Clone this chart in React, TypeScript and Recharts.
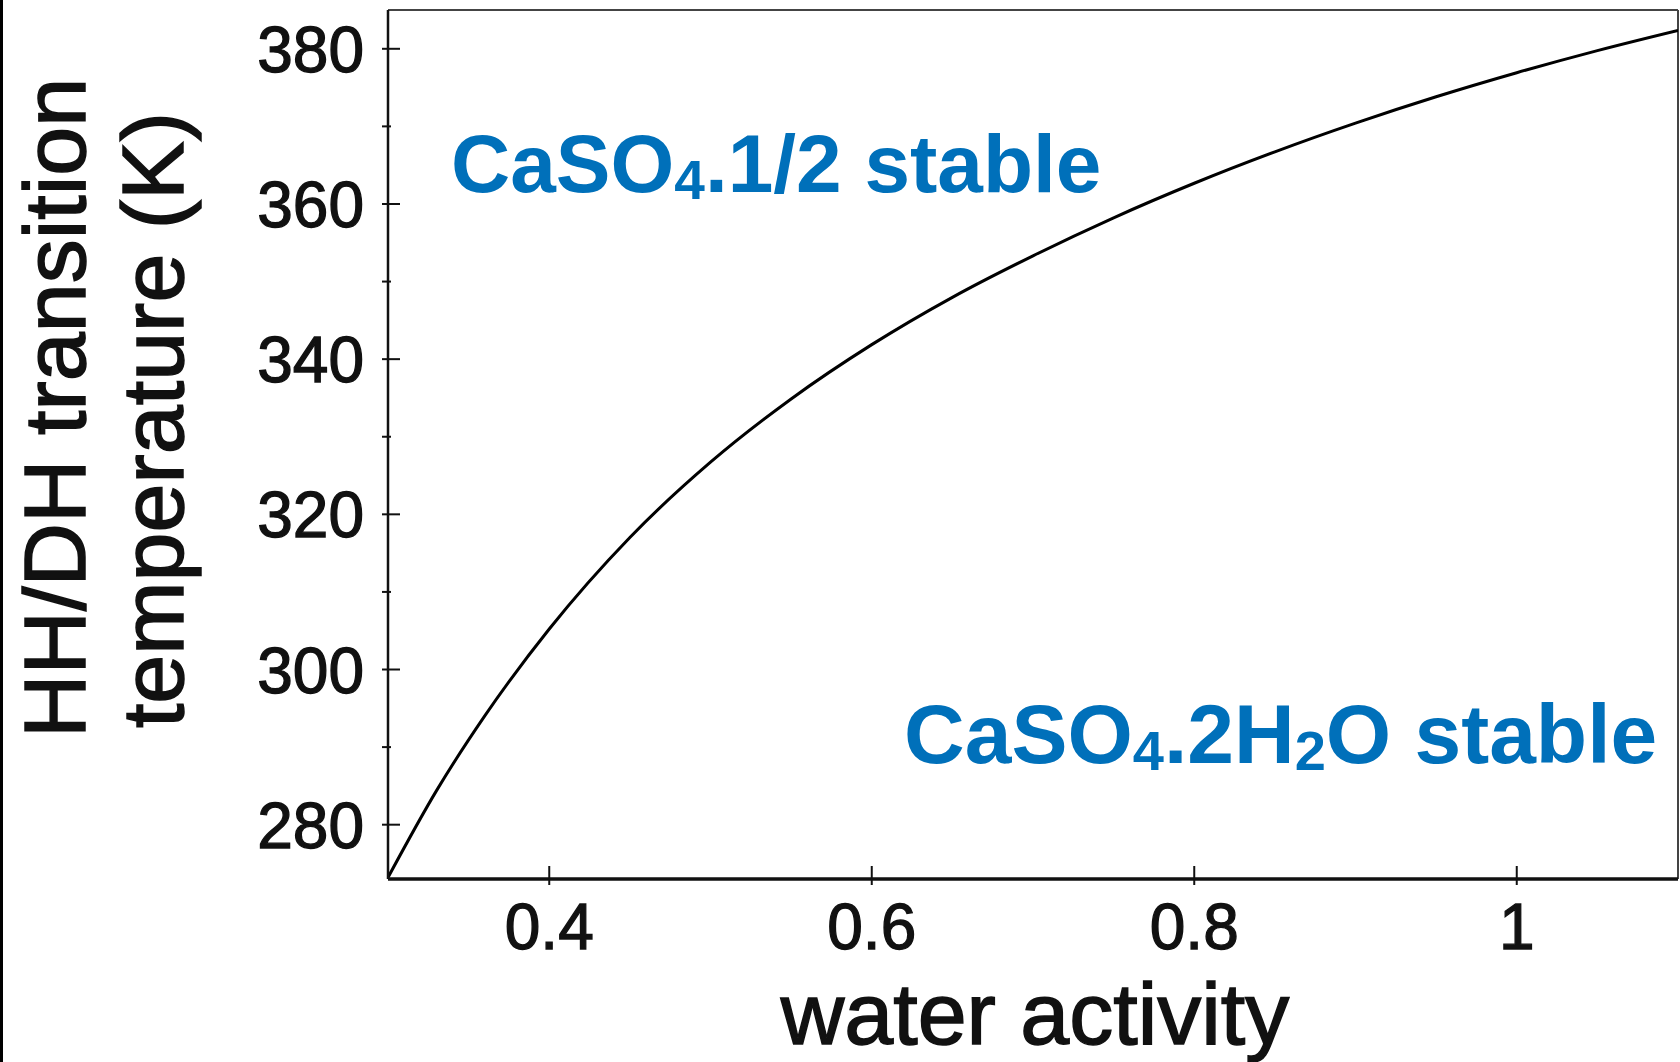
import React from "react";
import { LineChart, Line, XAxis, YAxis, ReferenceLine } from "recharts";

// water activity vs HH/DH transition temperature (K)
const waterActivity = [0.30, 0.33, 0.36, 0.40, 0.45, 0.50, 0.55, 0.60, 0.65, 0.70, 0.75, 0.80, 0.85, 0.90, 0.95, 1.00, 1.05, 1.10];
const transitionK  = [273.2, 284.36, 294.02, 305.22, 317.02, 326.72, 334.87, 341.87, 347.97, 353.32, 358.22, 362.67, 366.72, 370.42, 373.82, 376.92, 379.77, 382.37];

const xTicks = [0.4, 0.6, 0.8, 1];
const yTicks = [280, 290, 300, 310, 320, 330, 340, 350, 360, 370, 380];
const yMajor = [280, 300, 320, 340, 360, 380];

const xDomain = [0.3, 1.1];
const yDomain = [273, 385];

const data = waterActivity.map((aw, i) => ({ aw, t: transitionK[i] }));

const FONT = '"Liberation Sans", Arial, Helvetica, sans-serif';
const BLUE = "#0070ba";
const INK = "#111";
const W = 1680;
const H = 1062;
const TICK_GAP = 18;

function YTick(props: any) {
  const { x, y, payload } = props;
  const ax = x + TICK_GAP;
  const major = yMajor.includes(payload.value);
  return (
    <g>
      <line x1={ax} y1={y} x2={ax + (major ? 18 : 9)} y2={y} stroke={INK} strokeWidth={2} />
      {major && (
        <text x={x} y={y} dy="0.36em" textAnchor="end" fontSize={64} fontFamily={FONT}
          fill={INK} stroke={INK} strokeWidth={1.3}>
          {payload.value}
        </text>
      )}
    </g>
  );
}

function XTick(props: any) {
  const { x, y, payload } = props;
  const ay = y - TICK_GAP;
  return (
    <g>
      <line x1={x} y1={ay} x2={x} y2={ay - 19} stroke={INK} strokeWidth={2} />
      <text x={x} y={y} dy="0.72em" textAnchor="middle" fontSize={64} fontFamily={FONT}
        fill={INK} stroke={INK} strokeWidth={1.3}>
        {String(payload.value)}
      </text>
    </g>
  );
}

export default function App() {
  return (
    <div style={{ position: "absolute", left: 0, top: 0, width: W, height: H, background: "#fff" }}>
      <LineChart width={W} height={H} data={data} margin={{ top: 10, right: 2, bottom: 0, left: 0 }}>
        <XAxis
          dataKey="aw" type="number" domain={xDomain} ticks={xTicks} interval={0}
          allowDataOverflow height={183} tickLine={false} tickMargin={TICK_GAP}
          axisLine={{ stroke: INK, strokeWidth: 3.5 }} tick={<XTick />}
        />
        <YAxis
          dataKey="t" type="number" domain={yDomain} ticks={yTicks} interval={0}
          allowDataOverflow width={388} tickLine={false} tickMargin={TICK_GAP}
          axisLine={{ stroke: INK, strokeWidth: 2.5 }} tick={<YTick />}
        />
        <ReferenceLine y={yDomain[1]} stroke="#444" strokeWidth={2} />
        <ReferenceLine x={xDomain[1]} stroke="#444" strokeWidth={2} />
        <Line
          dataKey="t" type="monotone" stroke="#000" strokeWidth={3}
          dot={false} isAnimationActive={false}
        />
      </LineChart>

      {/* titles and region labels */}
      <svg width={W} height={H} style={{ position: "absolute", left: 0, top: 0, pointerEvents: "none" }}>
        <rect x={0} y={0} width={3} height={H} fill="#000" />
        <g fontSize={88} fontFamily={FONT} fill={INK} stroke={INK} strokeWidth={1.5}>
          <text transform="translate(85,408) rotate(-90)" textAnchor="middle">HH/DH transition</text>
          <text transform="translate(183,420) rotate(-90)" textAnchor="middle">temperature (K)</text>
          <text x={1035} y={1044} textAnchor="middle">water activity</text>
        </g>
        <text x={451} y={192} fontSize={82} fontWeight="bold" fontFamily={FONT} fill={BLUE}>
          CaSO<tspan fontSize={55} dy={7}>4</tspan><tspan dy={-7}>.1/2 stable</tspan>
        </text>
        <text x={904} y={763} fontSize={84} fontWeight="bold" fontFamily={FONT} fill={BLUE}>
          CaSO<tspan fontSize={56} dy={7}>4</tspan><tspan dy={-7}>.2H</tspan>
          <tspan fontSize={56} dy={7}>2</tspan><tspan dy={-7}>O stable</tspan>
        </text>
      </svg>
    </div>
  );
}
